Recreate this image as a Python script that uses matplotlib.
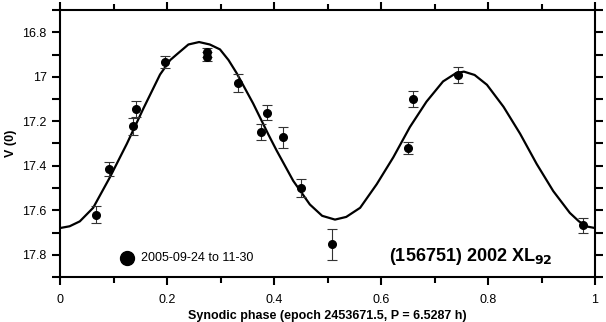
import matplotlib
matplotlib.use('Agg')
import matplotlib.pyplot as plt
from matplotlib.ticker import MultipleLocator

plt.rcParams['font.family'] = ['Liberation Sans', 'DejaVu Sans']

# Observed points: synodic phase, reduced magnitude V(0), error
phase = [0.067, 0.092, 0.142, 0.137, 0.196, 0.274, 0.274, 0.333, 0.386,
         0.376, 0.416, 0.450, 0.509, 0.650, 0.660, 0.743, 0.978]
mag = [17.620, 17.415, 17.145, 17.223, 16.933, 16.890, 16.910, 17.029, 17.162,
       17.249, 17.271, 17.501, 17.753, 17.321, 17.100, 16.991, 17.667]
err = [0.038, 0.033, 0.037, 0.039, 0.028, 0.020, 0.020, 0.040, 0.033,
       0.036, 0.047, 0.040, 0.070, 0.028, 0.036, 0.036, 0.034]

# Fourier fit curve
fit_phase = [0.000, 0.018, 0.037, 0.062, 0.093, 0.125, 0.156, 0.187, 0.206,
             0.218, 0.240, 0.260, 0.280, 0.299, 0.315, 0.330, 0.361, 0.390,
             0.405, 0.436, 0.467, 0.490, 0.514, 0.535, 0.561, 0.592, 0.623,
             0.654, 0.685, 0.716, 0.740, 0.755, 0.775, 0.798, 0.829, 0.860,
             0.891, 0.922, 0.953, 0.970, 0.985, 1.000]
fit_mag = [17.680, 17.672, 17.650, 17.589, 17.453, 17.301, 17.142, 16.990, 16.925,
           16.900, 16.855, 16.844, 16.855, 16.877, 16.925, 16.983, 17.120, 17.262,
           17.332, 17.468, 17.574, 17.625, 17.642, 17.630, 17.589, 17.483, 17.362,
           17.226, 17.112, 17.021, 16.984, 16.977, 16.992, 17.036, 17.135, 17.256,
           17.392, 17.514, 17.612, 17.650, 17.673, 17.680]

legend_label = '2005-09-24 to 11-30'
object_name = r'(156751) 2002 XL$_{\mathbf{92}}$'

fig = plt.figure(figsize=(6.06, 3.22), dpi=100)
ax = fig.add_axes([60 / 606, 1 - 277 / 322, 535 / 606, 267 / 322])

ax.plot(fit_phase, fit_mag, color='black', lw=1.6, solid_joinstyle='round')
ax.errorbar(phase, mag, yerr=err, fmt='o', color='black', ms=5.5,
            ecolor='#333333', elinewidth=0.8, capsize=3.8, capthick=0.8)

# legend marker + label
ax.plot([0.125], [17.815], 'o', color='black', ms=10)
ax.text(0.152, 17.815, legend_label, fontsize=9, va='center', ha='left')
ax.text(0.92, 17.81, object_name, fontsize=13, fontweight='bold',
        va='center', ha='right')

ax.set_xlim(0, 1)
ax.set_ylim(17.9, 16.7)
ax.xaxis.set_minor_locator(MultipleLocator(0.1))
ax.yaxis.set_minor_locator(MultipleLocator(0.1))
ax.set_xticks([0, 0.2, 0.4, 0.6, 0.8, 1.0], ['0', '0.2', '0.4', '0.6', '0.8', '1'])
ax.set_yticks([16.8, 17.0, 17.2, 17.4, 17.6, 17.8],
              ['16.8', '17', '17.2', '17.4', '17.6', '17.8'])

ax.tick_params(which='both', direction='out', width=1.5, labelsize=9,
               top=True, right=True)
ax.tick_params(which='major', length=6)
ax.tick_params(axis='x', which='major', pad=6)
ax.tick_params(axis='x', which='minor', length=4)
ax.tick_params(axis='y', which='minor', length=6)
for s in ax.spines.values():
    s.set_linewidth(1.5)

ax.set_xlabel('Synodic phase (epoch 2453671.5, P = 6.5287 h)', fontsize=9,
              fontweight='bold', labelpad=3)
ax.set_ylabel('V (0)', fontsize=9, fontweight='bold', labelpad=4)

fig.savefig('out.png', dpi=100)
